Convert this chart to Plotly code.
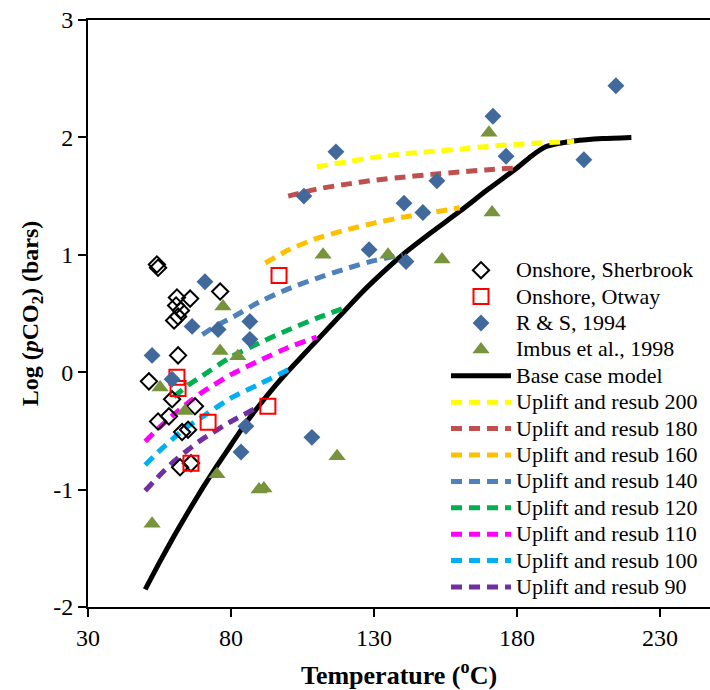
import plotly.graph_objects as go

# ---------------- data ----------------
sher_T = [54.1, 54.5, 61.1, 65.7, 60.8, 62.5, 60.1, 61.5, 76.2, 61.5,
          51.3, 59.4, 67.4, 54.5, 58.3, 62.9, 65.0, 62.2, 66.0]
sher_L = [0.917, 0.89, 0.636, 0.627, 0.568, 0.526, 0.44, 0.474, 0.687, 0.143,
          -0.078, -0.231, -0.29, -0.42, -0.376, -0.51, -0.49, -0.81, -0.776]

otway_T = [96.8, 61.1, 61.5, 72.0, 66.0, 92.9]
otway_L = [0.823, -0.044, -0.138, -0.427, -0.776, -0.29]

rs_T = [214.6, 171.6, 116.7, 176.2, 203.4, 105.5, 152.0, 140.5, 147.1, 128.3,
        141.2, 70.9, 66.4, 75.5, 52.4, 86.6, 86.6, 59.4, 85.2, 83.5, 108.3]
rs_L = [2.44, 2.18, 1.877, 1.84, 1.81, 1.50, 1.63, 1.44, 1.36, 1.044,
        0.942, 0.77, 0.39, 0.364, 0.143, 0.432, 0.28, -0.06, -0.46, -0.68, -0.555]

imbus_T = [170.2, 171.3, 112.2, 134.9, 153.8, 77.2, 76.2, 82.4, 55.2, 63.9,
           75.1, 117.1, 89.8, 91.5, 52.4]
imbus_L = [2.04, 1.36, 1.0, 1.0, 0.96, 0.56, 0.18, 0.135, -0.13, -0.33,
           -0.87, -0.715, -1.0, -0.99, -1.29]

base_T = [50, 55, 60, 65, 70, 75, 80, 85, 90, 95, 100, 105, 110, 115, 120, 125,
          130, 140, 150, 160, 170, 180, 185, 190, 195, 200, 210, 220]
base_L = [-1.85, -1.62, -1.40, -1.19, -0.99, -0.80, -0.62, -0.44, -0.28, -0.13,
          0.01, 0.14, 0.27, 0.40, 0.53, 0.66, 0.78, 1.00, 1.19, 1.37, 1.56,
          1.74, 1.84, 1.92, 1.95, 1.97, 1.99, 2.00]

up200_T = [110, 120, 130, 140, 150, 160, 170, 180, 190, 200]
up200_L = [1.75, 1.79, 1.83, 1.86, 1.88, 1.90, 1.925, 1.94, 1.955, 1.965]

up180_T = [100, 110, 120, 130, 140, 150, 160, 170, 180]
up180_L = [1.50, 1.56, 1.60, 1.635, 1.66, 1.685, 1.705, 1.725, 1.74]

up160_T = [92, 100, 110, 120, 130, 140, 150, 160]
up160_L = [0.93, 1.04, 1.14, 1.21, 1.27, 1.32, 1.36, 1.40]

up140_T = [70, 75, 80, 90, 100, 110, 120, 130, 140]
up140_L = [0.32, 0.40, 0.46, 0.60, 0.71, 0.80, 0.88, 0.95, 1.00]

up120_T = [60, 65, 70, 80, 90, 100, 110, 120]
up120_L = [-0.21, -0.11, -0.03, 0.13, 0.25, 0.36, 0.46, 0.55]

up110_T = [50, 55, 60, 65, 70, 80, 90, 100, 110]
up110_L = [-0.59, -0.47, -0.36, -0.26, -0.17, -0.02, 0.10, 0.21, 0.30]

up100_T = [50, 55, 60, 65, 70, 80, 90, 100]
up100_L = [-0.79, -0.67, -0.56, -0.46, -0.38, -0.22, -0.10, 0.02]

up90_T = [50, 55, 60, 65, 70, 80, 90]
up90_L = [-1.01, -0.88, -0.76, -0.66, -0.57, -0.42, -0.29]

x_ticks = [30, 80, 130, 180, 230]
y_ticks = [-2, -1, 0, 1, 2, 3]

# ---------------- figure ----------------
FONT = "Liberation Serif, Times New Roman, serif"


def lbl(s):
    return '<span style="font-size:22px">' + s + '</span>'


fig = go.Figure()

lines = [
    ("Base case model", base_T, base_L, "#000000", "solid", 5),
    ("Uplift and resub 200", up200_T, up200_L, "#FFFF00", "11px,7px", 5),
    ("Uplift and resub 180", up180_T, up180_L, "#C0504D", "11px,7px", 5),
    ("Uplift and resub 160", up160_T, up160_L, "#FFC000", "11px,7px", 5),
    ("Uplift and resub 140", up140_T, up140_L, "#4F81BD", "11px,7px", 5),
    ("Uplift and resub 120", up120_T, up120_L, "#00B050", "11px,7px", 5),
    ("Uplift and resub 110", up110_T, up110_L, "#FF00FF", "11px,7px", 5),
    ("Uplift and resub 100", up100_T, up100_L, "#00B0F0", "11px,7px", 5),
    ("Uplift and resub 90", up90_T, up90_L, "#7030A0", "11px,7px", 5),
]
for i, (name, xs, ys, col, dash, w) in enumerate(lines):
    fig.add_trace(go.Scatter(
        x=xs, y=ys, mode="lines", name=lbl(name),
        line=dict(color=col, width=w, dash=dash, shape="spline", smoothing=0.6),
        legendrank=100 + i))

fig.add_trace(go.Scatter(
    x=sher_T, y=sher_L, mode="markers", name=lbl("Onshore, Sherbrook"),
    marker=dict(symbol="diamond-open", size=12.5, color="#000000",
                line=dict(width=2, color="#000000")),
    legendrank=1))
fig.add_trace(go.Scatter(
    x=otway_T, y=otway_L, mode="markers", name=lbl("Onshore, Otway"),
    marker=dict(symbol="square-open", size=15, color="#FF0000",
                line=dict(width=2, color="#FF0000")),
    legendrank=2))
fig.add_trace(go.Scatter(
    x=rs_T, y=rs_L, mode="markers", name=lbl("R &amp; S, 1994"),
    marker=dict(symbol="diamond", size=13, color="#41699C",
                line=dict(width=0)),
    legendrank=3))
fig.add_trace(go.Scatter(
    x=imbus_T, y=imbus_L, mode="markers", name=lbl("Imbus et al., 1998"),
    marker=dict(symbol="triangle-up", size=15, color="#77933C",
                line=dict(width=0)),
    legendrank=4))

fig.update_layout(
    width=710, height=690,
    margin=dict(l=88, r=0, t=20, b=83, autoexpand=False),
    paper_bgcolor="white", plot_bgcolor="white",
    font=dict(family=FONT, size=24, color="#000000"),
    showlegend=True,
    legend=dict(
        xref="container", yref="container",
        x=446 / 710, y=1 - 252 / 690, xanchor="left", yanchor="top",
        font=dict(family=FONT, size=18, color="#000000"),
        bgcolor="rgba(0,0,0,0)", borderwidth=0,
        itemwidth=60, tracegroupgap=0, maxheight=420,
    ),
    xaxis=dict(
        range=[30, 247.5], tickmode="array", tickvals=x_ticks,
        ticktext=[str(v) for v in x_ticks],
        showgrid=False, zeroline=False,
        showline=True, linecolor="#000000", linewidth=2, mirror=True,
        ticks="outside", ticklen=8, tickwidth=2, tickcolor="#000000",
        tickfont=dict(family=FONT, size=24),
        title=dict(text="<b>Temperature (<sup>o</sup>C)</b>",
                   font=dict(family=FONT, size=26), standoff=16),
    ),
    yaxis=dict(
        range=[-2, 3], tickmode="array", tickvals=y_ticks,
        ticktext=[str(v) for v in y_ticks],
        showgrid=False, zeroline=False,
        showline=True, linecolor="#000000", linewidth=2, mirror=False,
        ticks="outside", ticklen=8, tickwidth=2, tickcolor="#000000",
        tickfont=dict(family=FONT, size=24),
        title=dict(text="<b>Log (<i>p</i>CO<sub>2</sub>) (bars)</b>",
                   font=dict(family=FONT, size=24), standoff=8),
    ),
)

fig.write_html("out.html", config={"displayModeBar": False},
               post_script="document.body.style.margin='0';")
